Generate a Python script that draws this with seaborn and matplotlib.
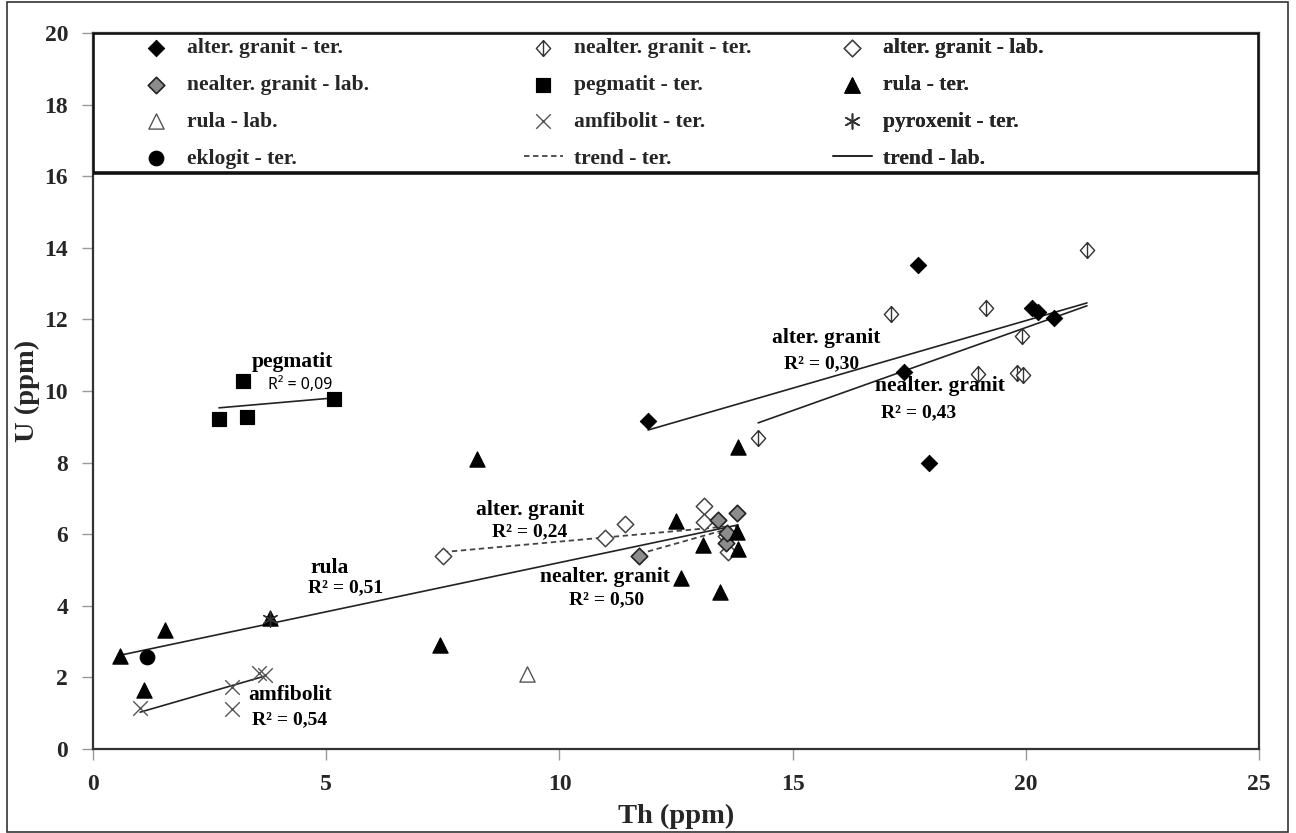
import matplotlib
matplotlib.use("Agg")
import matplotlib.pyplot as plt
import seaborn as sns
from matplotlib.path import Path
from matplotlib.lines import Line2D
from matplotlib.patches import Rectangle

# values (Th, U in ppm)
alt_ter_th = [11.90, 17.39, 17.69, 17.92, 20.13, 20.26, 20.60]
alt_ter_u = [9.16, 10.53, 13.52, 7.99, 12.32, 12.21, 12.04]

nealt_ter_th = [14.26, 17.11, 18.97, 19.15, 19.81, 19.91, 19.94, 21.31]
nealt_ter_u = [8.69, 12.15, 10.47, 12.32, 10.50, 11.54, 10.45, 13.94]

alt_lab_th = [7.50, 10.98, 11.41, 13.10, 13.10, 13.57, 13.62]
alt_lab_u = [5.39, 5.89, 6.28, 6.79, 6.34, 5.95, 5.50]

nealt_lab_th = [11.71, 13.40, 13.57, 13.59, 13.81]
nealt_lab_u = [5.39, 6.40, 5.75, 6.03, 6.59]

peg_th = [2.70, 3.22, 3.30, 5.17]
peg_u = [9.22, 10.28, 9.27, 9.78]

rula_ter_th = [0.58, 1.09, 1.54, 3.80, 7.44, 8.23, 12.50, 12.61, 13.08, 13.44, 13.81, 13.83, 13.83]
rula_ter_u = [2.60, 1.65, 3.32, 3.66, 2.91, 8.10, 6.37, 4.78, 5.70, 4.39, 6.06, 5.59, 8.44]

rula_lab_th = [9.31]
rula_lab_u = [2.09]

amf_th = [1.01, 2.98, 2.98, 3.56, 3.69]
amf_u = [1.15, 1.73, 1.12, 2.12, 2.07]

pyr_th = [3.80]
pyr_u = [3.64]

ekl_th = [1.16]
ekl_u = [2.57]

# trend lines: start/end points and type (ter = dashed, lab = solid)
trend_x0 = [2.70, 0.58, 1.01, 11.90, 14.26, 7.50, 11.71]
trend_y0 = [9.53, 2.62, 1.03, 8.91, 9.11, 5.50, 5.45]
trend_x1 = [5.10, 13.83, 3.69, 21.31, 21.31, 13.62, 13.81]
trend_y1 = [9.80, 6.26, 2.04, 12.46, 12.38, 6.22, 6.22]
trend_kind = ["lab", "lab", "lab", "lab", "lab", "ter", "ter"]

# annotations: rock names and R² values
name_text = ["pegmatit", "alter. granit", "nealter. granit", "alter. granit",
             "nealter. granit", "rula", "amfibolit"]
name_x = [4.27, 15.72, 18.16, 9.37, 10.98, 5.08, 4.22]
name_y = [10.81, 11.48, 10.14, 6.68, 4.80, 5.06, 1.51]
r2_text = ["R² = 0,30", "R² = 0,43", "R² = 0,24", "R² = 0,50", "R² = 0,51", "R² = 0,54"]
r2_x = [15.63, 17.69, 9.37, 11.02, 5.42, 4.22]
r2_y = [10.75, 9.39, 6.06, 4.16, 4.50, 0.81]

sns.set_style("white")
plt.rcParams["font.family"] = ["Liberation Serif", "DejaVu Serif"]
plt.rcParams["font.weight"] = "bold"

fig = plt.figure(figsize=(12.96, 8.33), dpi=100)
ax = fig.add_axes([0.0718, 0.1008, 0.8997, 0.8596])

phi = Path([(0, 1), (0.9, 0), (0, -1), (-0.9, 0), (0, 1), (0, 1), (0, -1)],
           [Path.MOVETO, Path.LINETO, Path.LINETO, Path.LINETO, Path.CLOSEPOLY,
            Path.MOVETO, Path.LINETO])

sns.scatterplot(x=alt_ter_th, y=alt_ter_u, marker="D", s=70, color="black",
                edgecolor="black", ax=ax, label="alter. granit - ter.", zorder=3)
sns.scatterplot(x=nealt_ter_th, y=nealt_ter_u, marker=phi, s=130, facecolor="white",
                edgecolor="#333333", linewidth=1.0, ax=ax, label="nealter. granit - ter.", zorder=3)
sns.scatterplot(x=alt_lab_th, y=alt_lab_u, marker="D", s=70, facecolor="white",
                edgecolor="#444444", linewidth=1.1, ax=ax, label="alter. granit - lab.", zorder=3)
sns.scatterplot(x=nealt_lab_th, y=nealt_lab_u, marker="D", s=70, facecolor="#8c8c8c",
                edgecolor="#222222", linewidth=1.2, ax=ax, label="nealter. granit - lab.", zorder=3)
sns.scatterplot(x=peg_th, y=peg_u, marker="s", s=110, color="black",
                edgecolor="black", ax=ax, label="pegmatit - ter.", zorder=3)
sns.scatterplot(x=rula_ter_th, y=rula_ter_u, marker="^", s=120, color="black",
                edgecolor="black", ax=ax, label="rula - ter.", zorder=3)
sns.scatterplot(x=rula_lab_th, y=rula_lab_u, marker="^", s=120, facecolor="white",
                edgecolor="#555555", linewidth=1.0, ax=ax, label="rula - lab.", zorder=3)
sns.scatterplot(x=amf_th, y=amf_u, marker="x", s=110, color="#555555",
                linewidth=1.0, ax=ax, label="amfibolit - ter.", zorder=3)
sns.scatterplot(x=pyr_th, y=pyr_u, marker=(6, 2, 0), s=120, color="#333333",
                linewidth=1.0, ax=ax, label="pyroxenit - ter.", zorder=4)
sns.scatterplot(x=ekl_th, y=ekl_u, marker="o", s=110, color="black",
                edgecolor="black", ax=ax, label="eklogit - ter.", zorder=3)

for x0, y0, x1, y1, k in zip(trend_x0, trend_y0, trend_x1, trend_y1, trend_kind):
    if k == "ter":
        ax.plot([x0, x1], [y0, y1], color="#444444", lw=1.3, ls=(0, (3, 2)), zorder=2)
    else:
        ax.plot([x0, x1], [y0, y1], color="#222222", lw=1.2, zorder=2)

for t, x, y in zip(name_text, name_x, name_y):
    ax.text(x, y, t, ha="center", va="center", fontsize=15.5, fontweight="bold", color="black")
for t, x, y in zip(r2_text, r2_x, r2_y):
    ax.text(x, y, t, ha="center", va="center", fontsize=14, fontweight="bold", color="black")
ax.text(4.44, 10.17, "R² = 0,09", ha="center", va="center", fontsize=11.5,
        family=["Noto Sans", "DejaVu Sans"], fontweight="normal", color="black")

ax.set_xlim(0, 25)
ax.set_ylim(0, 20)
ax.set_xticks([0, 5, 10, 15, 20, 25])
ax.set_yticks(range(0, 21, 2))
ax.tick_params(bottom=True, left=True, direction="out", length=8, width=1,
               color="#999999", labelsize=17, pad=10)
for lab in ax.get_xticklabels() + ax.get_yticklabels():
    lab.set_fontweight("bold")
for sp in ax.spines.values():
    sp.set_color("#333333")
    sp.set_linewidth(1.6)
ax.set_xlabel("Th (ppm)", fontsize=20.5, fontweight="bold", labelpad=6)
ax.set_ylabel("U (ppm)", fontsize=20.5, fontweight="bold", labelpad=3)

# legend box across the top of the plot
handles, labels = ax.get_legend_handles_labels()
ax.get_legend().remove()
handles.append(Line2D([], [], color="#444444", lw=1.3, ls=(0, (3, 2))))
labels.append("trend - ter.")
handles.append(Line2D([], [], color="#222222", lw=1.2))
labels.append("trend - lab.")

ax.add_patch(Rectangle((0, 16.1 / 20), 1, 1 - 16.1 / 20, transform=ax.transAxes,
                       facecolor="white", edgecolor="#111111", lw=2.6, zorder=5))
col_left = [0.0377, 0.3696, 0.6346]
for c in range(3):
    idx = [c, c + 3, c + 6, c + 9]
    leg = ax.legend([handles[i] for i in idx], [labels[i] for i in idx],
                    loc="upper left", bbox_to_anchor=(col_left[c], 0.9925),
                    frameon=False, handlelength=1.8, handletextpad=0.5,
                    labelspacing=0.78, borderpad=0, borderaxespad=0,
                    prop={"family": ["Liberation Serif"], "weight": "bold", "size": 15.5})
    leg.set_zorder(6)
    ax.add_artist(leg)

fig.patches.append(Rectangle((7 / 1296, 1 / 833), 1281 / 1296, 830 / 833,
                             transform=fig.transFigure, fill=False,
                             edgecolor="#333333", lw=1.2))

fig.savefig("out.png", dpi=100)
